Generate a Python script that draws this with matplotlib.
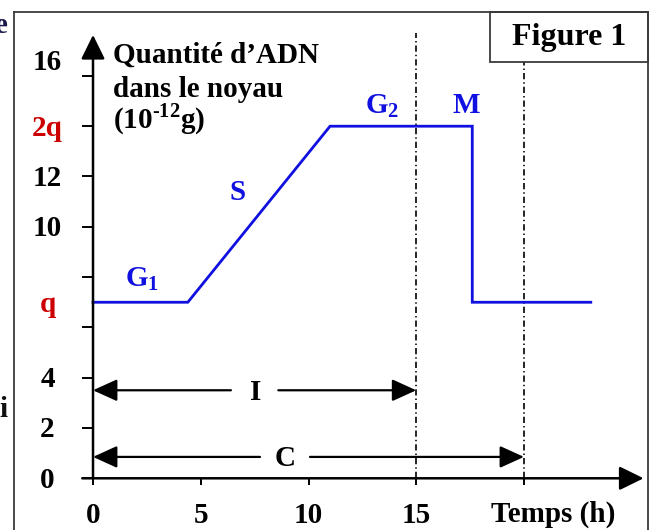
import matplotlib
matplotlib.use("Agg")
import matplotlib.pyplot as plt
from matplotlib.lines import Line2D
from matplotlib.patches import Rectangle

plt.rcParams['font.family'] = ['Liberation Serif', 'DejaVu Serif']
plt.rcParams['font.weight'] = 'bold'
plt.rcParams['lines.scale_dashes'] = False

# DNA content over one cell cycle (time in h, quantity in 10^-12 g)
time_h = [0, 4.4, 11.0, 17.6, 17.6, 23.1]
dna_qty = [7, 7, 14, 14, 7, 7]

# axis ticks and their labels
y_ticks = [0, 2, 4, 6, 8, 10, 12, 14, 16]
y_label_vals = [0, 2, 4, 7, 10, 12, 14, 16.6]
y_label_txt = ['0', '2', '4', 'q', '10', '12', '2q', '16']
y_label_col = ['k', 'k', 'k', '#cc0000', 'k', 'k', '#cc0000', 'k']
x_ticks = [0, 5, 10, 15, 20]
x_label_vals = [0, 5, 10, 15]
x_label_txt = ['0', '5', '10', '15']

# phase boundaries and spans
interphase_end = 15
cycle_end = 20
interphase_y = 3.5
cycle_y = 0.85

BLUE = '#1010e0'
FS = 21

fig = plt.figure(figsize=(6.59, 5.30), dpi=100)
ax = fig.add_axes([0, 0, 1, 1])
ax.set_xlim(-4.316, 26.265)
ax.set_ylim(-2.056, 19.018)
for s in ax.spines.values():
    s.set_visible(False)
ax.spines['left'].set_position(('data', 0))
ax.spines['bottom'].set_position(('data', 0))
ax.patch.set_alpha(0)

# ticks
ax.set_yticks(y_ticks)
ax.set_xticks(x_ticks)
ax.tick_params(axis='y', direction='out', length=8, width=1.4, labelleft=False)
ax.tick_params(axis='x', direction='out', length=5, width=1.4, labelbottom=False)

# axes with arrow heads
arrow_kw = dict(arrowstyle='-|>,head_length=0.55,head_width=0.27', color='k',
                lw=1.8, shrinkA=0, shrinkB=0, mutation_scale=27)
ax.annotate('', xy=(25.55, 0), xytext=(-0.5, 0), arrowprops=arrow_kw)
ax.annotate('', xy=(0, 17.63), xytext=(0, 0), arrowprops=arrow_kw)

# dash-dot phase boundaries
ax.plot([interphase_end, interphase_end], [0, 17.7], color='k', lw=1.2,
        dashes=(4.5, 2.2, 1, 2.2))
ax.plot([cycle_end, cycle_end], [0, 16.55], color='k', lw=1.2,
        dashes=(4.5, 2.2, 1, 2.2))

# DNA curve
ax.plot(time_h, dna_qty, color=BLUE, lw=2.0, solid_joinstyle='miter')

# span arrows I and C
span_kw = dict(arrowstyle='-|>,head_length=0.55,head_width=0.25', color='k',
               lw=1.6, shrinkA=0, shrinkB=0, mutation_scale=27)
ax.annotate('', xy=(0, interphase_y), xytext=(6.4, interphase_y), arrowprops=span_kw)
ax.annotate('', xy=(interphase_end, interphase_y), xytext=(8.6, interphase_y), arrowprops=span_kw)
ax.annotate('', xy=(0, cycle_y), xytext=(7.75, cycle_y), arrowprops=span_kw)
ax.annotate('', xy=(cycle_end, cycle_y), xytext=(10.07, cycle_y), arrowprops=span_kw)
ax.text(7.56, interphase_y - 0.37, 'I', fontsize=FS, ha='center', va='baseline')
ax.text(8.9, cycle_y - 0.37, 'C', fontsize=FS, ha='center', va='baseline')

# tick labels
for v, t, c in zip(y_label_vals, y_label_txt, y_label_col):
    ax.text(-2.11, v - 0.37, t, fontsize=FS, ha='center', va='baseline', color=c)
for v, t in zip(x_label_vals, x_label_txt):
    ax.text(v, -1.78, t, fontsize=FS, ha='center', va='baseline')
ax.text(21.35, -1.74, 'Temps (h)', fontsize=FS, ha='center', va='baseline')

# y-axis title
ax.text(0.93, 16.51, 'Quantité d\u2019ADN', fontsize=FS, ha='left', va='baseline')
ax.text(0.93, 15.16, 'dans le noyau', fontsize=FS, ha='left', va='baseline')
ax.text(0.93, 13.93, '(10$^\\mathregular{\u201012}$g)', fontsize=FS, ha='left', va='baseline')

# phase names
ax.text(1.48, 7.62, r'G$_\mathregular{1}$', fontsize=FS, color=BLUE, ha='left', va='baseline')
ax.text(6.73, 11.07, 'S', fontsize=FS, color=BLUE, ha='center', va='baseline')
ax.text(12.62, 14.53, r'G$_\mathregular{2}$', fontsize=FS, color=BLUE, ha='left', va='baseline')
ax.text(17.3, 14.53, 'M', fontsize=FS, color=BLUE, ha='center', va='baseline')

# frame and title box (figure pixel coordinates)
W, H = 659, 530
def px(x, y):
    return x / W, 1 - y / H
frame_col = '#3a3a3a'
for (x0, y0), (x1, y1) in [((14, 12), (648, 12)), ((14, 12), (14, 535)), ((648, 12), (648, 535))]:
    a, b = px(x0, y0)
    c, d = px(x1, y1)
    fig.add_artist(Line2D([a, c], [b, d], color=frame_col, lw=1.3, transform=fig.transFigure))
bx0, by0 = px(490, 62)
fig.add_artist(Rectangle((bx0, by0), (648 - 490) / W, 50 / H, fill=False,
                         edgecolor=frame_col, lw=1.3, transform=fig.transFigure))
fig.text((490 + 648) / 2 / W, 1 - 37 / H, 'Figure 1', fontsize=23, ha='center', va='center')

# fragments of neighbouring text at the left edge
fig.text(7.5 / W, 1 - 33 / H, 'e', fontsize=FS, ha='right', va='baseline', color='#1a1a4a')
fig.text(7.5 / W, 1 - 417 / H, 'i', fontsize=FS, ha='right', va='baseline', color='#111111')

fig.savefig('out.png', dpi=100)
